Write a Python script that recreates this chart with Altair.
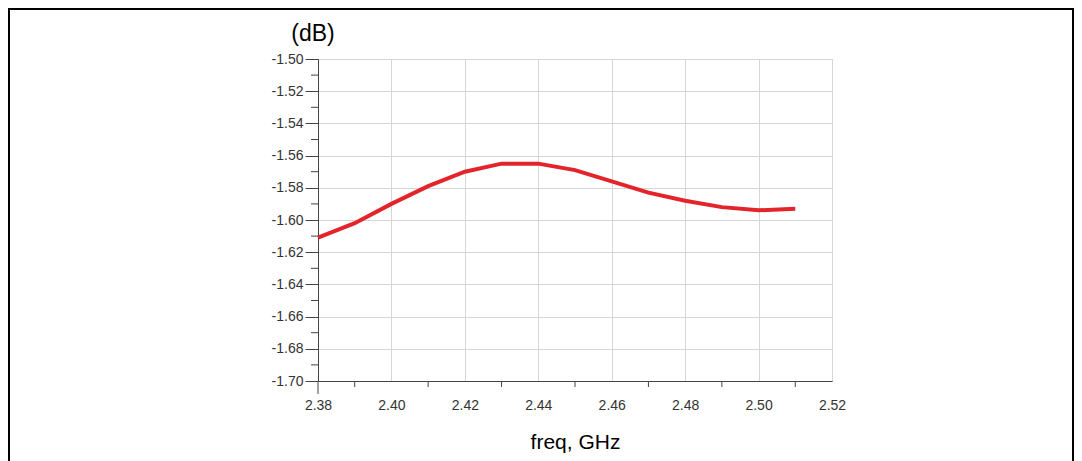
import altair as alt
import pandas as pd

# ---- data ----
freq = [2.38, 2.39, 2.40, 2.41, 2.42, 2.43, 2.44, 2.45, 2.46, 2.47, 2.48, 2.49, 2.50, 2.51]
loss = [-1.611, -1.602, -1.590, -1.579, -1.570, -1.565, -1.565, -1.569, -1.576, -1.583,
        -1.588, -1.592, -1.594, -1.593]

x_major = [2.38, 2.40, 2.42, 2.44, 2.46, 2.48, 2.50, 2.52]
x_minor = [2.39, 2.41, 2.43, 2.45, 2.47, 2.49, 2.51]
y_major = [-1.70, -1.68, -1.66, -1.64, -1.62, -1.60, -1.58, -1.56, -1.54, -1.52, -1.50]
y_minor = [-1.69, -1.67, -1.65, -1.63, -1.61, -1.59, -1.57, -1.55, -1.53, -1.51]

y_unit = "(dB)"
x_title = "freq, GHz"

W, H = 514, 322
FONT = "Liberation Sans"
AXC = "#444444"
GRID = "#d6d6d6"

df = pd.DataFrame({"freq": freq, "loss": loss})
xscale = alt.Scale(domain=[x_major[0], x_major[-1]], nice=False, zero=False)
yscale = alt.Scale(domain=[y_major[0], y_major[-1]], nice=False, zero=False)

lab = "replace(format(datum.value, '.2f'), '\u2212', '-')"

xaxis = alt.Axis(
    values=x_major, labelExpr=lab, grid=True, gridColor=GRID, tickSize=0,
    labelFlush=False, labelOverlap=False,
    labelPadding=17, labelFontSize=14, labelColor="#333333", labelFont=FONT,
    domainColor=AXC, title=x_title, titleFontSize=21, titleFontWeight="normal",
    titleFont=FONT, titleColor="#000000", titleY=67, titleBaseline="alphabetic")
yaxis = alt.Axis(
    values=y_major, labelExpr=lab, grid=True, gridColor=GRID, tickSize=13,
    labelFlush=False, labelOverlap=False,
    tickColor=AXC, labelPadding=2, labelFontSize=14, labelColor="#333333",
    labelFont=FONT, domainColor=AXC, title=None)

X = alt.X("freq:Q", scale=xscale, axis=xaxis, title=x_title)
Y = alt.Y("loss:Q", scale=yscale, axis=yaxis, title=None)

line = alt.Chart(df).mark_line(color="#e3242b", strokeWidth=4).encode(x=X, y=Y)

yminor = alt.Chart(pd.DataFrame({"loss": y_minor})).mark_rule(color=AXC).encode(
    y=Y, x=alt.value(-7), x2=alt.value(0))

xminor = alt.Chart(pd.DataFrame({"freq": x_minor})).mark_rule(color=AXC).encode(
    x=X, y=alt.value(H), y2=alt.value(H + 6))

xstart = alt.Chart(pd.DataFrame({"freq": [x_major[0]]})).mark_rule(color=AXC).encode(
    x=X, y=alt.value(H), y2=alt.value(H + 13))

unit = alt.Chart(pd.DataFrame({"t": [y_unit]})).mark_text(
    fontSize=23, font=FONT, align="center", baseline="alphabetic", color="#000000"
).encode(x=alt.value(-5), y=alt.value(-18), text="t:N")

frame = alt.Chart(pd.DataFrame({"a": [0]})).mark_rect(
    fill="transparent", stroke="#000000", strokeWidth=2
).encode(x=alt.value(-309), x2=alt.value(755), y=alt.value(-50), y2=alt.value(440))

chart = alt.layer(line, yminor, xminor, xstart, unit, frame).properties(
    width=W, height=H,
    autosize=alt.AutoSizeParams(type="none"),
    padding={"left": 318, "top": 59, "right": 250, "bottom": 80},
    background="#ffffff",
).configure_view(stroke="#a6a6a6", strokeWidth=1)

chart.save("out.html", embed_options={"renderer": "svg", "actions": False})
